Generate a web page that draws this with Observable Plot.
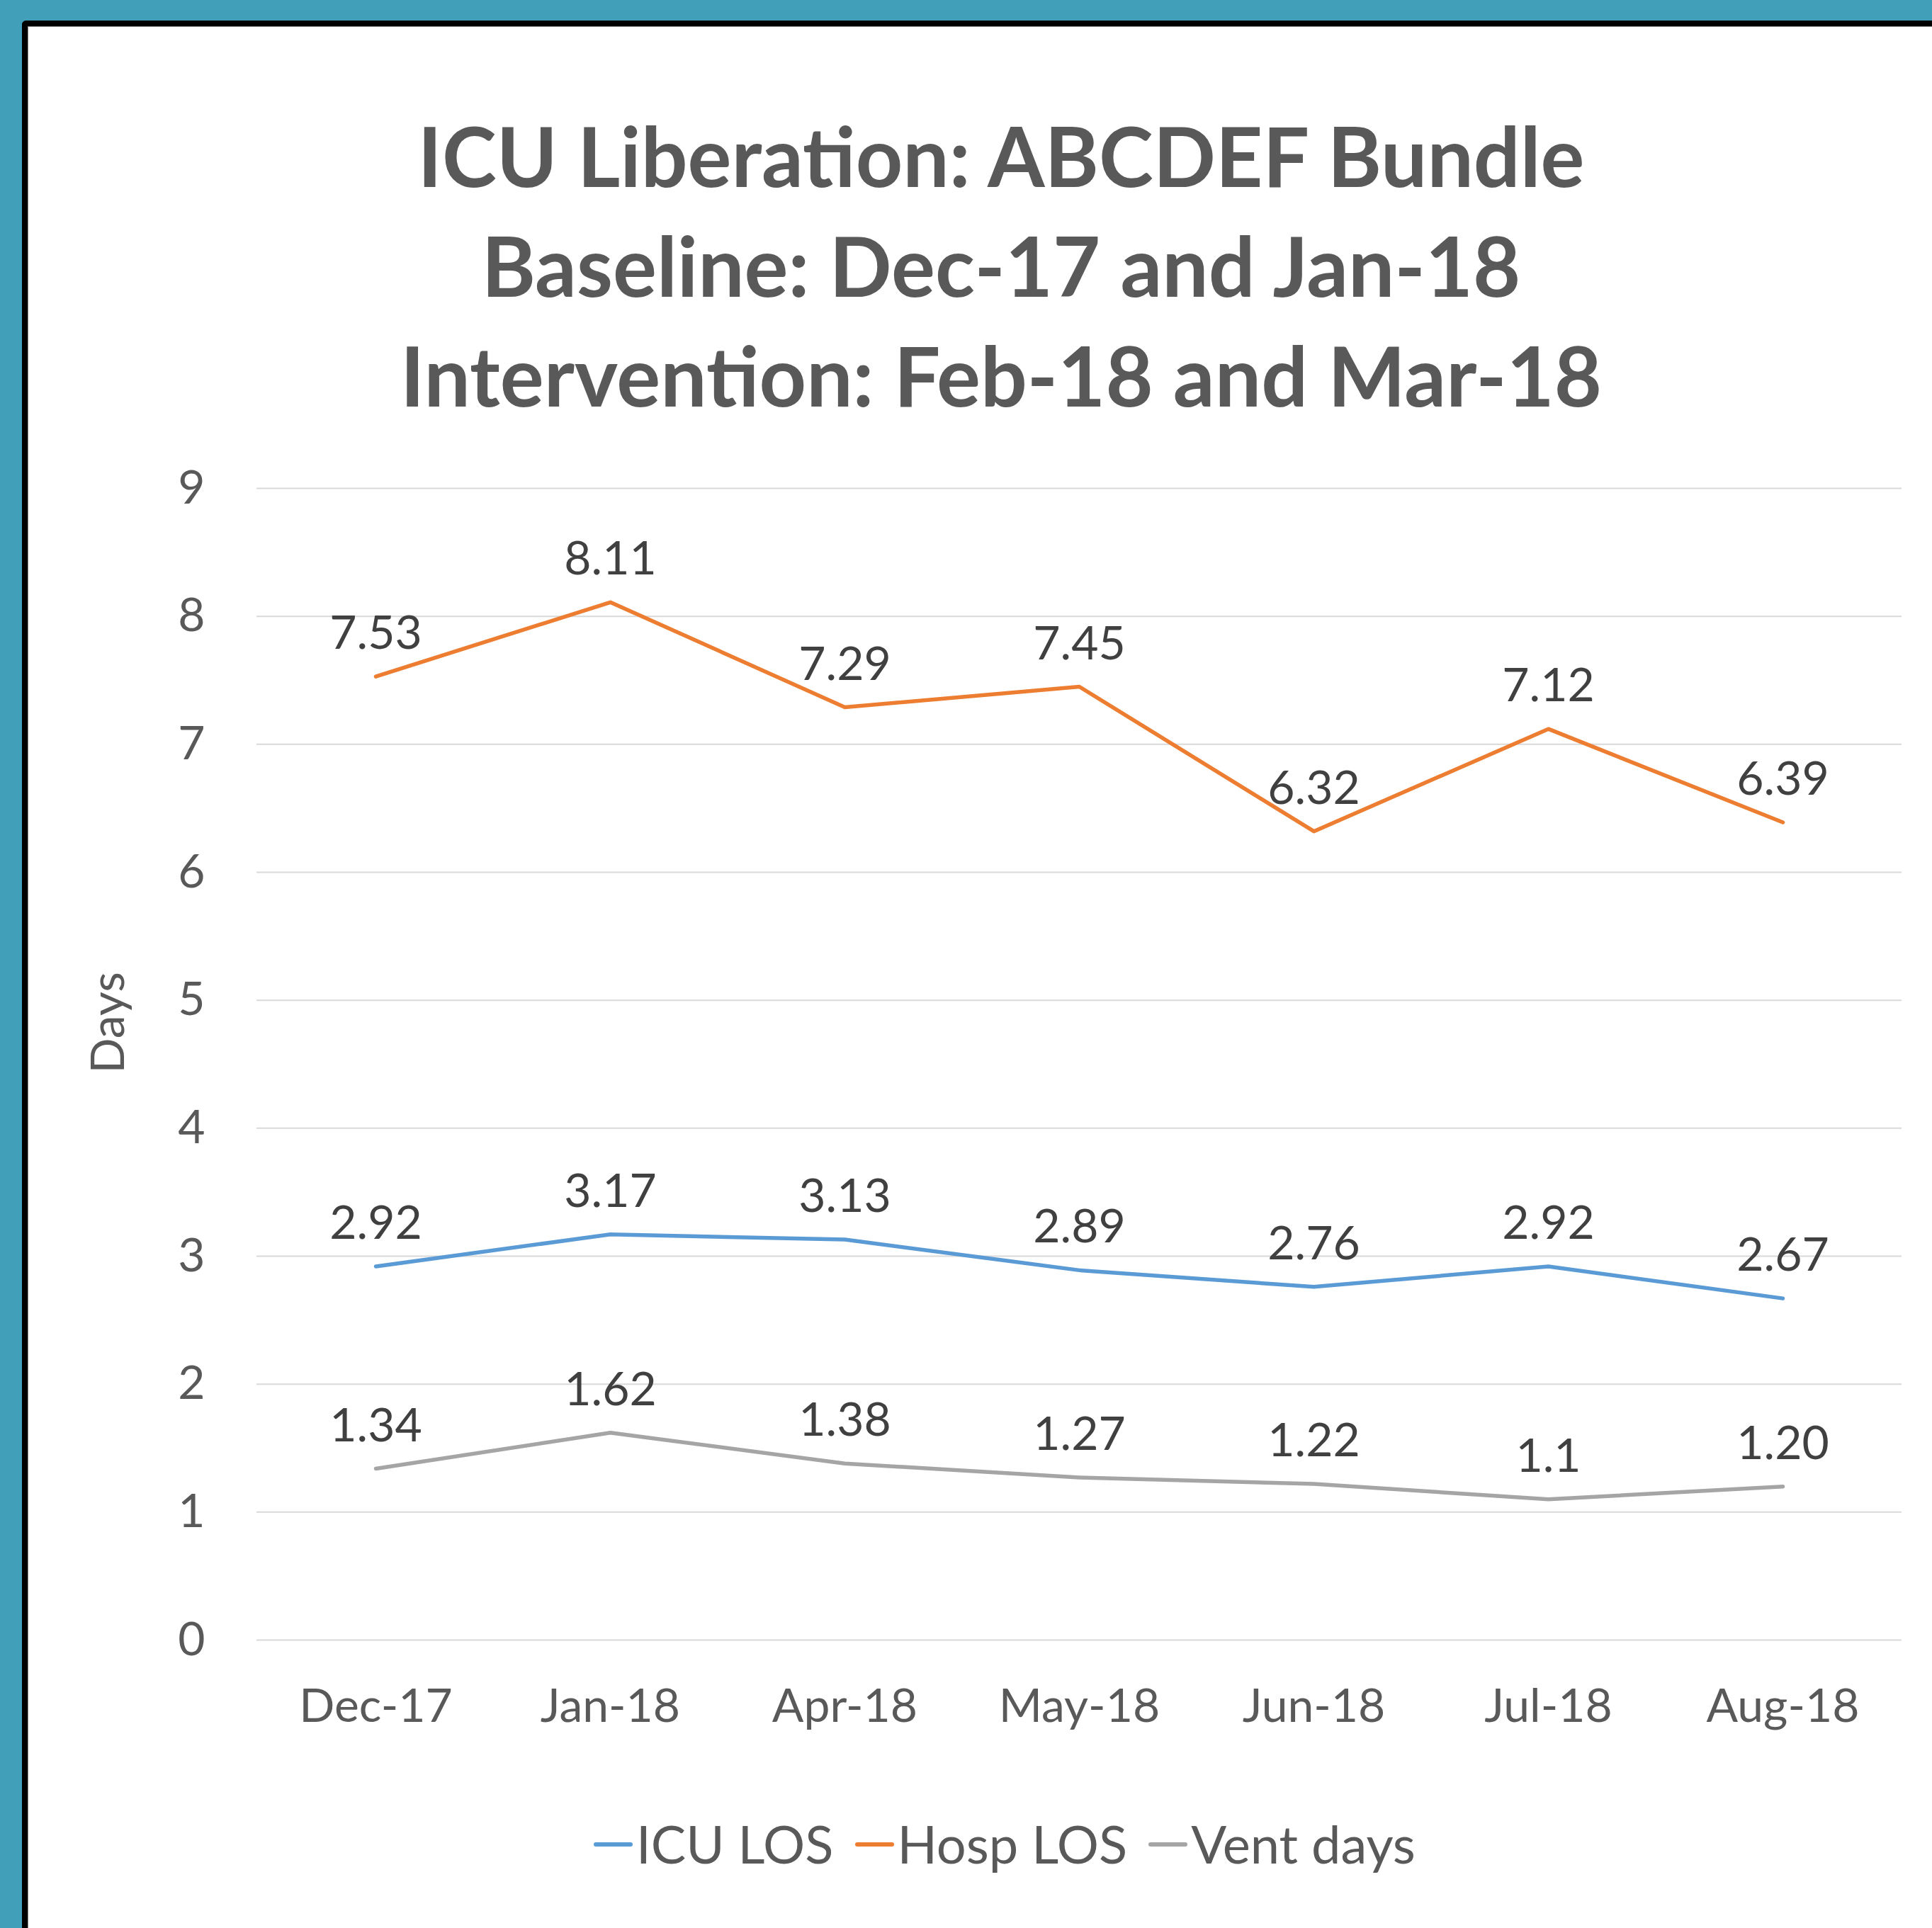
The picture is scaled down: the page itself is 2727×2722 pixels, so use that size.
<!DOCTYPE html>
<html>
<head>
<meta charset="utf-8">
<script src="https://cdn.jsdelivr.net/npm/d3@7"></script>
<script src="https://cdn.jsdelivr.net/npm/@observablehq/plot@0.6"></script>
<style>
  html, body { margin: 0; padding: 0; }
  body { width: 2727px; height: 2722px; overflow: hidden; background: #429FB9; position: relative; font-family: Lato, "Open Sans", sans-serif; }
  #card { position: absolute; left: 31px; top: 29px; right: 0; bottom: 0; background: #fff;
          border-left: 8px solid #000; border-top: 8px solid #000; border-top-left-radius: 6px;
          box-shadow: inset 1px 1px 0 #8a8a8a; }
  #title { position: absolute; left: 113px; width: 2600px; top: 142px; text-align: center;
           font-family: Lato, sans-serif; font-weight: 700; font-size: 116px; line-height: 155px; color: #595959; }
  #chart { position: absolute; left: 39px; top: 620px; width: 2688px; }
  #legend { position: absolute; left: 118px; width: 2600px; top: 2566px; text-align: center;
            font-family: Lato, sans-serif; font-size: 74px; line-height: 74px; color: #595959; white-space: nowrap; }
  .item { display: inline-block; margin: 0 15px; }
  .sw { display: inline-block; width: 55px; height: 6px; border-radius: 3px; vertical-align: 24px; margin-right: 5px; }
</style>
</head>
<body>
<div id="card"></div>
<div id="title">ICU Liberation: ABCDEF Bundle<br>Baseline: Dec-17 and Jan-18<br>Intervention: Feb-18 and Mar-18</div>
<div id="chart"></div>
<div id="legend"></div>
<script>
const months = ["Dec-17", "Jan-18", "Apr-18", "May-18", "Jun-18", "Jul-18", "Aug-18"];
const seriesNames = ["ICU LOS", "Hosp LOS", "Vent days"];
const seriesColors = ["#5B9BD5", "#ED7D31", "#A5A5A5"];
const icuLOS = [2.92, 3.17, 3.13, 2.89, 2.76, 2.92, 2.67];
const hospLOS = [7.53, 8.11, 7.29, 7.45, 6.32, 7.12, 6.39];
const ventDays = [1.34, 1.62, 1.38, 1.27, 1.22, 1.1, 1.20];
const icuLabels = ["2.92", "3.17", "3.13", "2.89", "2.76", "2.92", "2.67"];
const hospLabels = ["7.53", "8.11", "7.29", "7.45", "6.32", "7.12", "6.39"];
const ventLabels = ["1.34", "1.62", "1.38", "1.27", "1.22", "1.1", "1.20"];
const yTicks = [0, 1, 2, 3, 4, 5, 6, 7, 8, 9];
const yLabel = "Days";

const seriesValues = [icuLOS, hospLOS, ventDays];
const seriesLabels = [icuLabels, hospLabels, ventLabels];
const rows = [];
seriesNames.forEach((s, si) => {
  months.forEach((m, i) => rows.push({series: s, month: m, value: seriesValues[si][i], label: seriesLabels[si][i]}));
});

const W = 2688, H = 1900;
const chart = Plot.plot({
  width: W, height: H,
  marginLeft: 323, marginRight: 43, marginTop: 69, marginBottom: 205,
  style: {fontFamily: "Lato, sans-serif", fontSize: "66px", color: "#595959", background: "transparent", overflow: "visible"},
  x: {type: "point", domain: months, padding: 0.5},
  y: {domain: [0, 9]},
  color: {domain: seriesNames, range: seriesColors},
  marks: [
    Plot.gridY(yTicks, {stroke: "#D9D9D9", strokeOpacity: 1, strokeWidth: 2}),
    Plot.axisY(yTicks, {tickSize: 0, tickPadding: 73, fontSize: 66, fill: "#595959", label: null, tickFormat: d => String(d)}),
    Plot.axisX({tickSize: 0, tickPadding: 69, fontSize: 66, fill: "#595959", label: null}),
    Plot.line(rows, {x: "month", y: "value", z: "series", stroke: "series", strokeWidth: 5.5, strokeLinecap: "round", strokeLinejoin: "round"}),
    Plot.text(rows, {x: "month", y: "value", text: "label", dy: -60, fill: "#404040", fontSize: 66}),
    Plot.text([yLabel], {text: d => d, frameAnchor: "left", rotate: -90, dx: -209, dy: 13, fill: "#595959", fontSize: 66})
  ]
});
document.getElementById("chart").appendChild(chart);

const legend = document.getElementById("legend");
seriesNames.forEach((s, i) => {
  const item = document.createElement("span");
  item.className = "item";
  const sw = document.createElement("span");
  sw.className = "sw";
  sw.style.background = seriesColors[i];
  item.appendChild(sw);
  item.appendChild(document.createTextNode(s));
  legend.appendChild(item);
});
</script>
</body>
</html>
